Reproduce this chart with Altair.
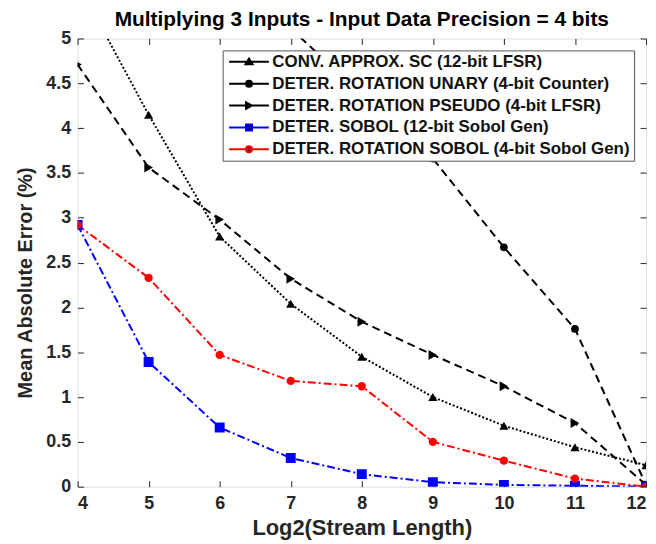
import altair as alt
import pandas as pd

FONT = "Liberation Sans"

series = [
    "CONV. APPROX. SC (12-bit LFSR)",
    "DETER. ROTATION UNARY (4-bit Counter)",
    "DETER. ROTATION PSEUDO (4-bit LFSR)",
    "DETER. SOBOL (12-bit Sobol Gen)",
    "DETER. ROTATION SOBOL (4-bit Sobol Gen)",
]
x_all = [4, 5, 6, 7, 8, 9, 10, 11, 12]
x_unary = [7, 8, 9, 10, 11, 12]
conv = [5.62, 4.15, 2.79, 2.04, 1.45, 1.00, 0.68, 0.44, 0.24]
unary = [5.11, 4.38, 3.66, 2.67, 1.76, 0.02]
pseudo = [4.71, 3.56, 2.98, 2.32, 1.84, 1.47, 1.12, 0.71, 0.02]
sobol12 = [2.92, 1.39, 0.66, 0.32, 0.14, 0.05, 0.02, 0.01, 0.0]
rot_sobol = [2.92, 2.33, 1.47, 1.18, 1.12, 0.50, 0.29, 0.09, 0.0]
y_ticks = [0, 0.5, 1, 1.5, 2, 2.5, 3, 3.5, 4, 4.5, 5]

colors = ["#000000", "#000000", "#000000", "#0000ff", "#ff0000"]
dashes = [[2, 2], [8, 5], [8, 5], [8, 3, 2, 3], [8, 3, 2, 3]]
shapes = ["triangle-up", "circle", "triangle-right", "square", "circle"]
sizes = [85, 60, 100, 100, 70]

LINE = "M-1,0L7,0"
CIRC = "M2.4,0A0.6,0.6,0,1,1,3.6,0A0.6,0.6,0,1,1,2.4,0Z"
legend_paths = [
    LINE + "M3,-0.65L3.7,0.5L2.3,0.5Z",
    LINE + CIRC,
    LINE + "M2.4,-0.65L3.6,0L2.4,0.65Z",
    LINE + "M2.4,-0.6L3.6,-0.6L3.6,0.6L2.4,0.6Z",
    LINE + CIRC,
]

rows = []
for name, xs, ys, c, s, sz in zip(series, [x_all, x_unary, x_all, x_all, x_all],
                                  [conv, unary, pseudo, sobol12, rot_sobol],
                                  colors, shapes, sizes):
    for xv, yv in zip(xs, ys):
        rows.append(dict(x=xv, mae=yv, series=name, col=c, shp=s, sz=sz))
df = pd.DataFrame(rows)

W, H = 572, 451
xscale = alt.Scale(domain=[4, 12], nice=False, zero=False)
yscale = alt.Scale(domain=[0, 5], nice=False)

common_tick = dict(labels=False, domain=False, ticks=True, tickSize=6, tickColor="#262626",
                   tickWidth=1, title=None, grid=False)

xA = alt.Axis(orient="bottom", values=x_all, title="Log2(Stream Length)", labelFont=FONT,
              labelFontSize=18, labelFontWeight="bold", labelColor="#262626", labelPadding=8,
              ticks=False, domain=False, grid=False, titleFont=FONT, titleFontSize=22,
              titleFontWeight="bold", titleColor="#262626", titleY=48,
              titleBaseline="alphabetic")
yA = alt.Axis(orient="left", values=y_ticks, format="~g", title="Mean Absolute Error (%)",
              labelFont=FONT, labelFontSize=18, labelFontWeight="bold", labelColor="#262626",
              labelPadding=7, ticks=False, domain=False, grid=False, titleFont=FONT,
              titleFontSize=20, titleFontWeight="bold", titleColor="#262626", titleX=-42,
              titleY=H / 2 + 20, titleAngle=270, titleAlign="center", titleBaseline="bottom")
xB = alt.Axis(orient="top", offset=-H, values=x_all, **common_tick)
yB = alt.Axis(orient="right", offset=-W, values=y_ticks, **common_tick)
xC = alt.Axis(orient="bottom", offset=-H, values=x_all, **common_tick)
yC = alt.Axis(orient="left", offset=-W, values=y_ticks, **common_tick)

legend = alt.Legend(
    title=None, orient="top-right", offset=12, padding=3,
    labelFont=FONT, labelFontSize=17, labelFontWeight="bold", labelColor="#111111",
    labelLimit=0, symbolSize=100, symbolStrokeWidth=2, labelOffset=30, rowPadding=4,
    fillColor="white", strokeColor="#555555", symbolOpacity=1,
)

base = alt.Chart(df)

lines = base.mark_line(strokeWidth=2, clip=True).encode(
    x=alt.X("x:Q", scale=xscale, axis=xA),
    y=alt.Y("mae:Q", scale=yscale, axis=yA),
    color=alt.Color("series:N", scale=alt.Scale(domain=series, range=colors), legend=None),
    strokeDash=alt.StrokeDash("series:N", scale=alt.Scale(domain=series, range=dashes),
                              legend=None),
    order=alt.Order("x:Q"),
)

points = base.mark_point(filled=True, opacity=1, clip=True).encode(
    x=alt.X("x:Q", scale=xscale, axis=xB),
    y=alt.Y("mae:Q", scale=yscale, axis=yB),
    fill=alt.Fill("col:N", scale=None),
    shape=alt.Shape("shp:N", scale=None),
    size=alt.Size("sz:Q", scale=None),
)

ghost = base.mark_point(opacity=0, clip=True).encode(
    x=alt.X("x:Q", scale=xscale, axis=xC),
    y=alt.Y("mae:Q", scale=yscale, axis=yC),
)

# legend-only layer: its data is filtered out, only the legend remains
legend_layer = base.transform_filter("datum.x > 100").mark_point(
    filled=False, strokeWidth=2, opacity=1
).encode(
    x=alt.X("x:Q", scale=xscale, axis=None),
    y=alt.Y("mae:Q", scale=yscale, axis=None),
    stroke=alt.Stroke("series:N", scale=alt.Scale(domain=series, range=colors), legend=legend),
    shape=alt.Shape("series:N", scale=alt.Scale(domain=series, range=legend_paths),
                    legend=legend),
)

chart = alt.layer(lines, points, ghost, legend_layer).resolve_axis(
    x="independent", y="independent"
).resolve_scale(
    color="independent", strokeDash="independent"
).properties(
    width=W, height=H,
    autosize=alt.AutoSizeParams(type="none"),
    padding={"left": 70, "top": 29, "right": 2, "bottom": 54},
    title=alt.TitleParams("Multiplying 3 Inputs - Input Data Precision = 4 bits", font=FONT,
                          fontSize=21, fontWeight="bold", color="#000000", anchor="middle",
                          offset=0),
).configure_view(stroke="#262626", strokeWidth=1).configure(background="white")

chart.save("out.html", embed_options={"renderer": "svg", "actions": False})
